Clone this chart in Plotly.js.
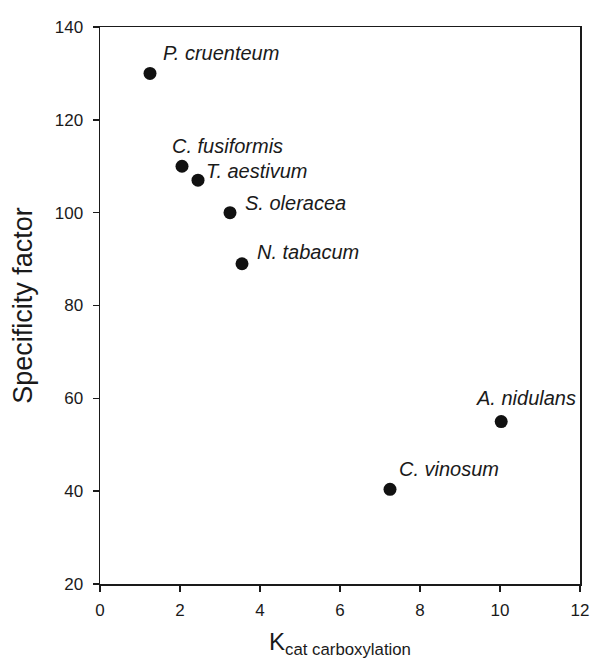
<!DOCTYPE html>
<html>
<head>
<meta charset="utf-8">
<script src="https://cdn.plot.ly/plotly-3.0.1.min.js"></script>
<style>
  html, body { margin: 0; padding: 0; background: #fff; }
  #chart { width: 590px; height: 663px; }
</style>
</head>
<body>
<div id="chart"></div>
<script>
// ---- data ----
const species = ["P. cruenteum", "C. fusiformis", "T. aestivum", "S. oleracea", "N. tabacum", "A. nidulans", "C. vinosum"];
const kcat = [1.25, 2.05, 2.45, 3.25, 3.55, 10.03, 7.25];
const specificity = [130, 110, 107, 100, 89, 55, 40.4];

// ---- label placement (pixel offsets from each point) ----
const labelShiftX = [11, -12, 6, 13, 13, -27, 7];
const labelShiftY = [20, 20, 9, 10, 12, 24, 20];

const FONT = '"Liberation Sans", Arial, Helvetica, sans-serif';
const INK = '#1a1a1a';

const trace = {
  type: 'scatter',
  mode: 'markers',
  x: kcat,
  y: specificity,
  marker: { size: 13, color: '#111', line: { width: 0 } },
  hoverinfo: 'skip'
};

const annotations = species.map((s, i) => ({
  x: kcat[i], y: specificity[i], xref: 'x', yref: 'y',
  text: '<i>' + s + '</i>',
  showarrow: false,
  xanchor: 'left', yanchor: 'middle',
  xshift: labelShiftX[i], yshift: labelShiftY[i],
  font: { family: FONT, size: 20, color: INK }
}));

const axisCommon = {
  showgrid: false, zeroline: false,
  showline: true, mirror: true, linecolor: INK, linewidth: 1.5,
  ticks: 'outside', ticklen: 6, tickwidth: 1.5, tickcolor: INK,
  tickfont: { family: FONT, size: 17, color: INK },
  automargin: false
};

const layout = {
  width: 590, height: 663,
  margin: { l: 100, r: 10, t: 27, b: 79 },
  paper_bgcolor: '#fff', plot_bgcolor: '#fff',
  showlegend: false,
  xaxis: Object.assign({}, axisCommon, {
    range: [0, 12], dtick: 2, tick0: 0,
    ticklabelstandoff: 4,
    title: { text: 'K<sub>cat carboxylation</sub>', font: { family: FONT, size: 24, color: INK }, standoff: 14 }
  }),
  yaxis: Object.assign({}, axisCommon, {
    range: [20, 140], dtick: 20, tick0: 20,
    ticklabelstandoff: 6,
    title: { text: 'Specificity factor', font: { family: FONT, size: 27, color: INK }, standoff: 14 }
  }),
  annotations: annotations
};

Plotly.newPlot('chart', [trace], layout, { displayModeBar: false, staticPlot: true });
</script>
</body>
</html>
